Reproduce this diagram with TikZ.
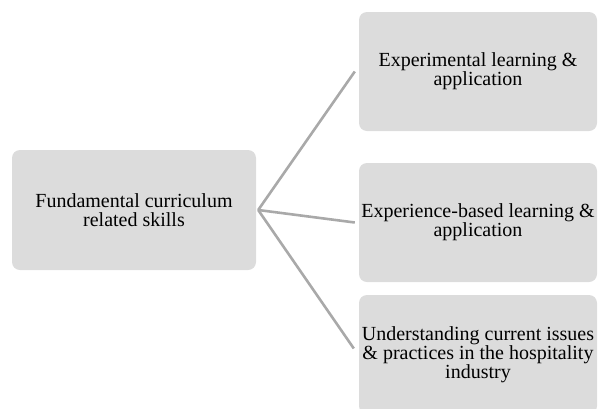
\documentclass[tikz,border=0pt]{standalone}
\usepackage{fontspec}
\setmainfont{Liberation Serif}

\begin{document}
\begin{tikzpicture}[x=1pt, y=-1pt,
    skillbox/.style={fill=boxgray, rounded corners=8pt, minimum width=238pt,
      minimum height=119pt, align=center, inner sep=0pt,
      font=\fontsize{20}{19}\selectfont},
    link/.style={draw=linegray, line width=2.6pt}]
  \definecolor{boxgray}{HTML}{DCDCDC}
  \definecolor{linegray}{HTML}{A9A9A9}
  \useasboundingbox (0,0) rectangle (598,408); % keep the page size

  \node[skillbox, minimum width=244pt, minimum height=120pt] (skills) at (134,210)
    {Fundamental curriculum\\related skills};
  \node[skillbox] (exper) at (478,71.5) {Experimental learning \&\\application};
  \node[skillbox] (based) at (478,222.5) {Experience-based learning \&\\application};
  \node[skillbox] (issues) at (478,354.5)
    {Understanding current issues\\\& practices in the hospitality\\industry};

  \coordinate (hub) at ([xshift=2pt]skills.east);
  \draw[link] (hub) -- ([xshift=-4pt]exper.west);
  \draw[link] (hub) -- ([xshift=-4pt]based.west);
  \draw[link] (hub) -- ([xshift=-5pt,yshift=6pt]issues.west);
\end{tikzpicture}
\end{document}
